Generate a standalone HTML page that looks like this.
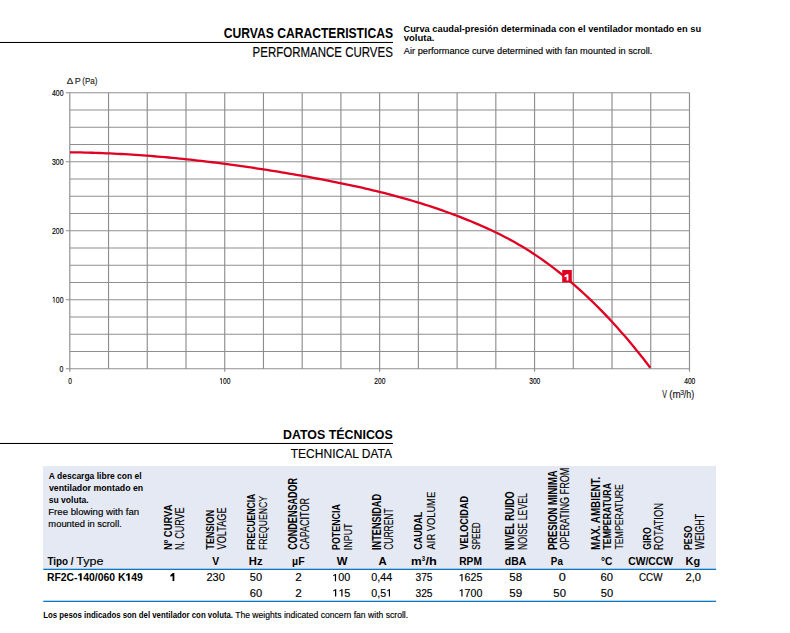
<!DOCTYPE html>
<html><head><meta charset="utf-8"><style>
html,body{margin:0;padding:0;background:#fff;width:790px;height:633px;overflow:hidden}
svg{display:block;font-family:"Liberation Sans",sans-serif}
</style></head><body>
<svg width="790" height="633" viewBox="0 0 790 633">
<text x="223.72" y="37.8" font-size="13.91" font-weight="bold" textLength="169.26" lengthAdjust="spacingAndGlyphs" fill="#000">CURVAS CARACTERISTICAS</text>
<rect x="0" y="41.95" width="393" height="1.05" fill="#000"/>
<text x="252.58" y="56.9" font-size="14.2" stroke="#000" stroke-width="0.15" textLength="140.25" lengthAdjust="spacingAndGlyphs" fill="#000">PERFORMANCE CURVES</text>
<text x="403.43" y="32" font-size="8.71" font-weight="bold" textLength="297.7" lengthAdjust="spacingAndGlyphs" fill="#000">Curva caudal-presión determinada con el ventilador montado en su</text>
<text x="403.75" y="40.8" font-size="8.71" font-weight="bold" textLength="30.69" lengthAdjust="spacingAndGlyphs" fill="#000">voluta.</text>
<text x="403.8" y="53.8" font-size="9.13" stroke="#000" stroke-width="0.15" textLength="248.55" lengthAdjust="spacingAndGlyphs" fill="#000">Air performance curve determined with fan mounted in scroll.</text>
<path d="M69.8 92.7V371.7 M108.53 92.7V368.7 M147.26 92.7V368.7 M185.99 92.7V368.7 M224.72 92.7V371.7 M263.45 92.7V368.7 M302.18 92.7V368.7 M340.91 92.7V368.7 M379.64 92.7V371.7 M418.37 92.7V368.7 M457.1 92.7V368.7 M495.83 92.7V368.7 M534.56 92.7V371.7 M573.29 92.7V368.7 M612.02 92.7V368.7 M650.75 92.7V368.7 M689.48 92.7V371.7 M65.8 368.7H689.48 M69.8 351.45H689.48 M69.8 334.2H689.48 M69.8 316.95H689.48 M65.8 299.7H689.48 M69.8 282.45H689.48 M69.8 265.2H689.48 M69.8 247.95H689.48 M65.8 230.7H689.48 M69.8 213.45H689.48 M69.8 196.2H689.48 M69.8 178.95H689.48 M65.8 161.7H689.48 M69.8 144.45H689.48 M69.8 127.2H689.48 M69.8 109.95H689.48 M65.8 92.7H689.48" stroke="#8e8e8e" stroke-width="1.15" fill="none"/>
<text x="59.62" y="371.7" font-size="8.6" stroke="#000" stroke-width="0.15" textLength="3.83" lengthAdjust="spacingAndGlyphs" fill="#000">0</text>
<path d="M54.46 302.7 L54.46 296.68 L53.81 296.68 L52.6 297.75 L52.6 298.53 L53.71 297.75 L53.71 302.7Z" fill="#000"/>
<text x="51.99" y="302.7" font-size="8.6" stroke="#000" stroke-width="0.15" textLength="11.48" lengthAdjust="spacingAndGlyphs" fill="#000"> 00</text>
<text x="51.99" y="233.7" font-size="8.6" stroke="#000" stroke-width="0.15" textLength="11.48" lengthAdjust="spacingAndGlyphs" fill="#000">200</text>
<text x="51.99" y="164.7" font-size="8.6" stroke="#000" stroke-width="0.15" textLength="11.48" lengthAdjust="spacingAndGlyphs" fill="#000">300</text>
<text x="51.99" y="95.7" font-size="8.6" stroke="#000" stroke-width="0.15" textLength="11.48" lengthAdjust="spacingAndGlyphs" fill="#000">400</text>
<text x="68.14" y="383.9" font-size="8.3" stroke="#000" stroke-width="0.15" textLength="3.69" lengthAdjust="spacingAndGlyphs" fill="#000">0</text>
<path d="M221.65 383.9 L221.65 378.09 L221.02 378.09 L219.86 379.13 L219.86 379.87 L220.92 379.13 L220.92 383.9Z" fill="#000"/>
<text x="219.26" y="383.9" font-size="8.3" stroke="#000" stroke-width="0.15" textLength="11.08" lengthAdjust="spacingAndGlyphs" fill="#000"> 00</text>
<text x="374.26" y="383.9" font-size="8.3" stroke="#000" stroke-width="0.15" textLength="11.08" lengthAdjust="spacingAndGlyphs" fill="#000">200</text>
<text x="529.22" y="383.9" font-size="8.3" stroke="#000" stroke-width="0.15" textLength="11.08" lengthAdjust="spacingAndGlyphs" fill="#000">300</text>
<text x="684.2" y="383.9" font-size="8.3" stroke="#000" stroke-width="0.15" textLength="11.08" lengthAdjust="spacingAndGlyphs" fill="#000">400</text>
<text x="66.81" y="83.6" font-size="9.13" stroke="#222" stroke-width="0.15" textLength="6.46" lengthAdjust="spacingAndGlyphs" fill="#222">Δ</text>
<text x="74.78" y="83.6" font-size="9.13" stroke="#222" stroke-width="0.15" textLength="5.98" lengthAdjust="spacingAndGlyphs" fill="#222">P</text>
<text x="82.32" y="83.6" font-size="9.13" stroke="#222" stroke-width="0.15" textLength="15.2" lengthAdjust="spacingAndGlyphs" fill="#222">(Pa)</text>
<text x="662.36" y="397.5" font-size="10.14" stroke="#222" stroke-width="0.15" textLength="4.68" lengthAdjust="spacingAndGlyphs" fill="#222">V</text>
<text x="669.31" y="397.5" font-size="10.14" stroke="#222" stroke-width="0.15" textLength="11.49" lengthAdjust="spacingAndGlyphs" fill="#222">(m</text>
<text x="680.13" y="395.1" font-size="7.14" stroke="#222" stroke-width="0.15" textLength="3.75" lengthAdjust="spacingAndGlyphs" fill="#222">3</text>
<text x="683.8" y="397.5" font-size="10.14" stroke="#222" stroke-width="0.15" textLength="10.46" lengthAdjust="spacingAndGlyphs" fill="#222">/h)</text>
<path d="M70.00 152.29 L73.65 152.34 L77.30 152.39 L80.95 152.46 L84.60 152.55 L88.25 152.64 L91.90 152.75 L95.55 152.86 L99.20 152.99 L102.85 153.13 L106.50 153.28 L110.15 153.45 L113.80 153.62 L117.45 153.80 L121.10 154.00 L124.75 154.21 L128.39 154.43 L132.04 154.65 L135.69 154.89 L139.34 155.14 L142.99 155.41 L146.64 155.68 L150.29 155.96 L153.94 156.25 L157.59 156.55 L161.24 156.86 L164.89 157.19 L168.54 157.52 L172.19 157.86 L175.84 158.21 L179.49 158.57 L183.14 158.95 L186.79 159.33 L190.44 159.72 L194.09 160.12 L197.74 160.53 L201.39 160.95 L205.04 161.37 L208.69 161.81 L212.34 162.26 L215.99 162.71 L219.64 163.17 L223.29 163.65 L226.94 164.13 L230.59 164.62 L234.24 165.12 L237.89 165.62 L241.54 166.14 L245.18 166.66 L248.83 167.19 L252.48 167.73 L256.13 168.28 L259.78 168.83 L263.43 169.40 L267.08 169.97 L270.73 170.55 L274.38 171.13 L278.03 171.73 L281.68 172.33 L285.33 172.94 L288.98 173.56 L292.63 174.18 L296.28 174.81 L299.93 175.45 L303.58 176.09 L307.23 176.74 L310.88 177.40 L314.53 178.07 L318.18 178.75 L321.83 179.43 L325.48 180.13 L329.13 180.83 L332.78 181.55 L336.43 182.27 L340.08 183.01 L343.73 183.76 L347.38 184.52 L351.03 185.30 L354.68 186.09 L358.33 186.89 L361.97 187.71 L365.62 188.54 L369.27 189.39 L372.92 190.26 L376.57 191.14 L380.22 192.04 L383.87 192.96 L387.52 193.89 L391.17 194.84 L394.82 195.82 L398.47 196.81 L402.12 197.82 L405.77 198.85 L409.42 199.91 L413.07 200.98 L416.72 202.08 L420.37 203.20 L424.02 204.35 L427.67 205.51 L431.32 206.70 L434.97 207.92 L438.62 209.16 L442.27 210.43 L445.92 211.72 L449.57 213.04 L453.22 214.39 L456.87 215.76 L460.52 217.17 L464.17 218.60 L467.82 220.06 L471.47 221.55 L475.12 223.07 L478.76 224.63 L482.41 226.22 L486.06 227.85 L489.71 229.52 L493.36 231.24 L497.01 233.00 L500.66 234.81 L504.31 236.67 L507.96 238.58 L511.61 240.55 L515.26 242.58 L518.91 244.67 L522.56 246.82 L526.21 249.04 L529.86 251.32 L533.51 253.68 L537.16 256.11 L540.81 258.62 L544.46 261.19 L548.11 263.85 L551.76 266.57 L555.41 269.36 L559.06 272.23 L562.71 275.17 L566.36 278.17 L570.01 281.25 L573.66 284.39 L577.31 287.61 L580.96 290.89 L584.61 294.25 L588.26 297.67 L591.91 301.17 L595.55 304.74 L599.20 308.39 L602.85 312.11 L606.50 315.91 L610.15 319.79 L613.80 323.74 L617.45 327.77 L621.10 331.89 L624.75 336.08 L628.40 340.36 L632.05 344.72 L635.70 349.17 L639.35 353.70 L643.00 358.32 L646.65 363.02 L650.30 367.81" stroke="#df0022" stroke-width="2.3" fill="none"/>
<rect x="562.2" y="270" width="9.6" height="12.4" fill="#df0022"/>
<path d="M566.6 274.2H568.4V280.6H566.6V276.4L564.5 277.5V275.7Z" fill="#fff"/>
<text x="282.99" y="439" font-size="13.04" font-weight="bold" textLength="109.77" lengthAdjust="spacingAndGlyphs" fill="#000">DATOS TÉCNICOS</text>
<rect x="0" y="442.95" width="393" height="1.05" fill="#000"/>
<text x="290.76" y="457.9" font-size="13.33" stroke="#000" stroke-width="0.15" textLength="101.26" lengthAdjust="spacingAndGlyphs" fill="#000">TECHNICAL DATA</text>
<rect x="43" y="466" width="673" height="103" fill="#e5e9f4"/>
<rect x="43.3" y="568.7" width="672.7" height="1.3" fill="#0b77c4"/>
<rect x="43.3" y="600.7" width="672.7" height="1.3" fill="#0b77c4"/>
<text x="48.79" y="478.8" font-size="8.9" font-weight="bold" textLength="92.88" lengthAdjust="spacingAndGlyphs" fill="#000">A descarga libre con el</text>
<text x="48.96" y="491" font-size="8.9" font-weight="bold" textLength="94.26" lengthAdjust="spacingAndGlyphs" fill="#000">ventilador montado en</text>
<text x="48.7" y="502.9" font-size="8.9" font-weight="bold" textLength="39.98" lengthAdjust="spacingAndGlyphs" fill="#000">su voluta.</text>
<text x="48.23" y="514.7" font-size="8.9" stroke="#000" stroke-width="0.15" textLength="90.89" lengthAdjust="spacingAndGlyphs" fill="#000">Free blowing with fan</text>
<text x="48.39" y="526.6" font-size="8.9" stroke="#000" stroke-width="0.15" textLength="73.47" lengthAdjust="spacingAndGlyphs" fill="#000">mounted in scroll.</text>
<text transform="translate(171.9 550.01) rotate(-90)" font-size="11.3" font-weight="bold" textLength="45.48" lengthAdjust="spacingAndGlyphs" fill="#000">Nº CURVA</text>
<text transform="translate(184.1 550.12) rotate(-90)" font-size="12.03" stroke="#000" stroke-width="0.15" textLength="42.68" lengthAdjust="spacingAndGlyphs" fill="#000">N. CURVE</text>
<text transform="translate(214.2 549.49) rotate(-90)" font-size="11.74" font-weight="bold" textLength="39.67" lengthAdjust="spacingAndGlyphs" fill="#000">TENSION</text>
<text transform="translate(226.3 549.45) rotate(-90)" font-size="12.03" stroke="#000" stroke-width="0.15" textLength="42.12" lengthAdjust="spacingAndGlyphs" fill="#000">VOLTAGE</text>
<text transform="translate(254.9 549.96) rotate(-90)" font-size="11.16" font-weight="bold" textLength="56.28" lengthAdjust="spacingAndGlyphs" fill="#000">FRECUENCIA</text>
<text transform="translate(267.1 550.09) rotate(-90)" font-size="11.74" stroke="#000" stroke-width="0.15" textLength="53.99" lengthAdjust="spacingAndGlyphs" fill="#000">FREQUENCY</text>
<text transform="translate(297.3 549.76) rotate(-90)" font-size="12.61" font-weight="bold" textLength="71.84" lengthAdjust="spacingAndGlyphs" fill="#000">CONDENSADOR</text>
<text transform="translate(308.9 549.85) rotate(-90)" font-size="12.75" stroke="#000" stroke-width="0.15" textLength="51.88" lengthAdjust="spacingAndGlyphs" fill="#000">CAPACITOR</text>
<text transform="translate(340.2 549.98) rotate(-90)" font-size="11.74" font-weight="bold" textLength="45.82" lengthAdjust="spacingAndGlyphs" fill="#000">POTENCIA</text>
<text transform="translate(352 550.2) rotate(-90)" font-size="11.16" stroke="#000" stroke-width="0.15" textLength="26.68" lengthAdjust="spacingAndGlyphs" fill="#000">INPUT</text>
<text transform="translate(381.2 550) rotate(-90)" font-size="12.32" font-weight="bold" textLength="56.08" lengthAdjust="spacingAndGlyphs" fill="#000">INTENSIDAD</text>
<text transform="translate(393.3 549.82) rotate(-90)" font-size="12.32" stroke="#000" stroke-width="0.15" textLength="41.48" lengthAdjust="spacingAndGlyphs" fill="#000">CURRENT</text>
<text transform="translate(422.3 549.76) rotate(-90)" font-size="11.74" font-weight="bold" textLength="38.05" lengthAdjust="spacingAndGlyphs" fill="#000">CAUDAL</text>
<text transform="translate(434.8 549.4) rotate(-90)" font-size="10.87" stroke="#000" stroke-width="0.15" textLength="57.5" lengthAdjust="spacingAndGlyphs" fill="#000">AIR VOLUME</text>
<text transform="translate(467.8 549.45) rotate(-90)" font-size="11.74" font-weight="bold" textLength="53.45" lengthAdjust="spacingAndGlyphs" fill="#000">VELOCIDAD</text>
<text transform="translate(480 549.76) rotate(-90)" font-size="11.74" stroke="#000" stroke-width="0.15" textLength="27.43" lengthAdjust="spacingAndGlyphs" fill="#000">SPEED</text>
<text transform="translate(513.8 549.99) rotate(-90)" font-size="12.32" font-weight="bold" textLength="58.68" lengthAdjust="spacingAndGlyphs" fill="#000">NIVEL RUIDO</text>
<text transform="translate(526.6 550.1) rotate(-90)" font-size="13.33" stroke="#000" stroke-width="0.15" textLength="57.09" lengthAdjust="spacingAndGlyphs" fill="#000">NOISE LEVEL</text>
<text transform="translate(557.1 550.01) rotate(-90)" font-size="13.19" font-weight="bold" textLength="79.55" lengthAdjust="spacingAndGlyphs" fill="#000">PRESION MINIMA</text>
<text transform="translate(568.5 549.81) rotate(-90)" font-size="12.32" stroke="#000" stroke-width="0.15" textLength="82.16" lengthAdjust="spacingAndGlyphs" fill="#000">OPERATING FROM</text>
<text transform="translate(599.7 550.04) rotate(-90)" font-size="12.17" font-weight="bold" textLength="73.21" lengthAdjust="spacingAndGlyphs" fill="#000">MAX. AMBIENT.</text>
<text transform="translate(611 549.49) rotate(-90)" font-size="10.43" font-weight="bold" textLength="66.53" lengthAdjust="spacingAndGlyphs" fill="#000">TEMPERATURA</text>
<text transform="translate(622.5 549.58) rotate(-90)" font-size="11.3" stroke="#000" stroke-width="0.15" textLength="65.55" lengthAdjust="spacingAndGlyphs" fill="#000">TEMPERATURE</text>
<text transform="translate(650.5 549.75) rotate(-90)" font-size="11.59" font-weight="bold" textLength="22.51" lengthAdjust="spacingAndGlyphs" fill="#000">GIRO</text>
<text transform="translate(663 550.15) rotate(-90)" font-size="13.19" stroke="#000" stroke-width="0.15" textLength="47.24" lengthAdjust="spacingAndGlyphs" fill="#000">ROTATION</text>
<text transform="translate(691.5 549.97) rotate(-90)" font-size="11.59" font-weight="bold" textLength="24.35" lengthAdjust="spacingAndGlyphs" fill="#000">PESO</text>
<text transform="translate(704 549.44) rotate(-90)" font-size="12.17" stroke="#000" stroke-width="0.15" textLength="35.62" lengthAdjust="spacingAndGlyphs" fill="#000">WEIGHT</text>
<text x="47.5" y="564.9" font-size="10.87" font-weight="bold" textLength="26.08" lengthAdjust="spacingAndGlyphs" fill="#000">Tipo /</text>
<text x="76.25" y="564.9" font-size="10.87" stroke="#000" stroke-width="0.15" textLength="27.15" lengthAdjust="spacingAndGlyphs" fill="#000">Type</text>
<text x="212.25" y="564.9" font-size="10.72" font-weight="bold" textLength="6.92" lengthAdjust="spacingAndGlyphs" fill="#000">V</text>
<text x="248.77" y="564.9" font-size="10.72" font-weight="bold" textLength="13.75" lengthAdjust="spacingAndGlyphs" fill="#000">Hz</text>
<text x="292.12" y="564.9" font-size="10.72" font-weight="bold" textLength="12.47" lengthAdjust="spacingAndGlyphs" fill="#000">µF</text>
<text x="336.8" y="564.9" font-size="10.72" font-weight="bold" textLength="10.69" lengthAdjust="spacingAndGlyphs" fill="#000">W</text>
<text x="378.42" y="564.9" font-size="10.72" font-weight="bold" textLength="8.19" lengthAdjust="spacingAndGlyphs" fill="#000">A</text>
<text x="459.24" y="564.9" font-size="10.72" font-weight="bold" textLength="22.65" lengthAdjust="spacingAndGlyphs" fill="#000">RPM</text>
<text x="504.78" y="564.9" font-size="10.72" font-weight="bold" textLength="21.48" lengthAdjust="spacingAndGlyphs" fill="#000">dBA</text>
<text x="550.86" y="564.9" font-size="10.72" font-weight="bold" textLength="11.97" lengthAdjust="spacingAndGlyphs" fill="#000">Pa</text>
<text x="601.04" y="564.9" font-size="10.72" font-weight="bold" textLength="11.43" lengthAdjust="spacingAndGlyphs" fill="#000">°C</text>
<text x="628.29" y="564.9" font-size="10.72" font-weight="bold" textLength="44.78" lengthAdjust="spacingAndGlyphs" fill="#000">CW/CCW</text>
<text x="685.59" y="564.9" font-size="10.72" font-weight="bold" textLength="14.55" lengthAdjust="spacingAndGlyphs" fill="#000">Kg</text>
<text x="411.02" y="564.9" font-size="10.72" font-weight="bold" textLength="10.69" lengthAdjust="spacingAndGlyphs" fill="#000">m</text>
<text x="421.85" y="560.7" font-size="7.86" font-weight="bold" textLength="3.37" lengthAdjust="spacingAndGlyphs" fill="#000">3</text>
<text x="425.47" y="564.9" font-size="10.72" font-weight="bold" textLength="11.38" lengthAdjust="spacingAndGlyphs" fill="#000">/h</text>
<path d="M81.71 580.7 L81.71 573.19 L80.15 573.19 L78.17 574.48 L78.17 576.09 L79.83 575.12 L79.83 580.7Z" fill="#000"/>
<path d="M129.7 580.7 L129.7 573.19 L128.14 573.19 L126.16 574.48 L126.16 576.09 L127.83 575.12 L127.83 580.7Z" fill="#000"/>
<text x="46.92" y="580.7" font-size="10.72" font-weight="bold" textLength="95.97" lengthAdjust="spacingAndGlyphs" fill="#000">RF2C- 40/060 K 49</text>
<path d="M172.55 573.1H174.35V580.9H172.55V575.9L170.4 576.7V575.1L172.75 573.1Z" fill="#000"/>
<text x="206.45" y="581.2" font-size="10.29" stroke="#000" stroke-width="0.15" textLength="18.37" lengthAdjust="spacingAndGlyphs" fill="#000">230</text>
<text x="249.86" y="581.2" font-size="10.29" stroke="#000" stroke-width="0.15" textLength="12.25" lengthAdjust="spacingAndGlyphs" fill="#000">50</text>
<text x="295.22" y="581.2" font-size="10.29" stroke="#000" stroke-width="0.15" textLength="6.48" lengthAdjust="spacingAndGlyphs" fill="#000">2</text>
<path d="M336.08 581.2 L336.08 574 L335.05 574 L333.16 575.29 L333.16 576.21 L334.89 575.29 L334.89 581.2Z" fill="#000"/>
<text x="332.19" y="581.2" font-size="10.29" stroke="#000" stroke-width="0.15" textLength="18.03" lengthAdjust="spacingAndGlyphs" fill="#000"> 00</text>
<text x="371.37" y="581.2" font-size="10.29" stroke="#000" stroke-width="0.15" textLength="20.97" lengthAdjust="spacingAndGlyphs" fill="#000">0,44</text>
<text x="415.49" y="581.2" font-size="10.29" stroke="#000" stroke-width="0.15" textLength="17.05" lengthAdjust="spacingAndGlyphs" fill="#000">375</text>
<path d="M462.54 581.2 L462.54 574 L461.53 574 L459.66 575.29 L459.66 576.21 L461.37 575.29 L461.37 581.2Z" fill="#000"/>
<text x="458.7" y="581.2" font-size="10.29" stroke="#000" stroke-width="0.15" textLength="23.72" lengthAdjust="spacingAndGlyphs" fill="#000"> 625</text>
<text x="509.24" y="581.2" font-size="10.29" stroke="#000" stroke-width="0.15" textLength="12.85" lengthAdjust="spacingAndGlyphs" fill="#000">58</text>
<text x="558.89" y="581.2" font-size="10.29" stroke="#000" stroke-width="0.15" textLength="7.07" lengthAdjust="spacingAndGlyphs" fill="#000">0</text>
<text x="600.64" y="581.2" font-size="10.29" stroke="#000" stroke-width="0.15" textLength="12.48" lengthAdjust="spacingAndGlyphs" fill="#000">60</text>
<text x="638.91" y="581.2" font-size="10.29" stroke="#000" stroke-width="0.15" textLength="23.52" lengthAdjust="spacingAndGlyphs" fill="#000">CCW</text>
<text x="685.44" y="581.2" font-size="10.29" stroke="#000" stroke-width="0.15" textLength="15.55" lengthAdjust="spacingAndGlyphs" fill="#000">2,0</text>
<text x="249.74" y="596.5" font-size="10.29" stroke="#000" stroke-width="0.15" textLength="12.37" lengthAdjust="spacingAndGlyphs" fill="#000">60</text>
<text x="295.22" y="596.5" font-size="10.29" stroke="#000" stroke-width="0.15" textLength="6.48" lengthAdjust="spacingAndGlyphs" fill="#000">2</text>
<path d="M336.24 596.5 L336.24 589.3 L335.16 589.3 L333.17 590.59 L333.17 591.51 L334.99 590.59 L334.99 596.5Z" fill="#000"/>
<path d="M342.55 596.5 L342.55 589.3 L341.47 589.3 L339.48 590.59 L339.48 591.51 L341.3 590.59 L341.3 596.5Z" fill="#000"/>
<text x="332.15" y="596.5" font-size="10.29" stroke="#000" stroke-width="0.15" textLength="18.1" lengthAdjust="spacingAndGlyphs" fill="#000">  5</text>
<path d="M390 596.5 L390 589.3 L388.99 589.3 L387.13 590.59 L387.13 591.51 L388.83 590.59 L388.83 596.5Z" fill="#000"/>
<text x="371.37" y="596.5" font-size="10.29" stroke="#000" stroke-width="0.15" textLength="20.72" lengthAdjust="spacingAndGlyphs" fill="#000">0,5 </text>
<text x="415.49" y="596.5" font-size="10.29" stroke="#000" stroke-width="0.15" textLength="17.05" lengthAdjust="spacingAndGlyphs" fill="#000">325</text>
<path d="M462.53 596.5 L462.53 589.3 L461.52 589.3 L459.66 590.59 L459.66 591.51 L461.36 590.59 L461.36 596.5Z" fill="#000"/>
<text x="458.7" y="596.5" font-size="10.29" stroke="#000" stroke-width="0.15" textLength="23.67" lengthAdjust="spacingAndGlyphs" fill="#000"> 700</text>
<text x="509.24" y="596.5" font-size="10.29" stroke="#000" stroke-width="0.15" textLength="12.91" lengthAdjust="spacingAndGlyphs" fill="#000">59</text>
<text x="553.35" y="596.5" font-size="10.29" stroke="#000" stroke-width="0.15" textLength="12.57" lengthAdjust="spacingAndGlyphs" fill="#000">50</text>
<text x="600.76" y="596.5" font-size="10.29" stroke="#000" stroke-width="0.15" textLength="12.36" lengthAdjust="spacingAndGlyphs" fill="#000">50</text>
<text x="43.29" y="618.2" font-size="8.7" font-weight="bold" textLength="189.74" lengthAdjust="spacingAndGlyphs" fill="#000">Los pesos indicados son del ventilador con voluta.</text>
<text x="235.13" y="618.2" font-size="8.7" stroke="#000" stroke-width="0.15" textLength="173.06" lengthAdjust="spacingAndGlyphs" fill="#000">The weights indicated concern fan with scroll.</text>
</svg>
</body></html>
